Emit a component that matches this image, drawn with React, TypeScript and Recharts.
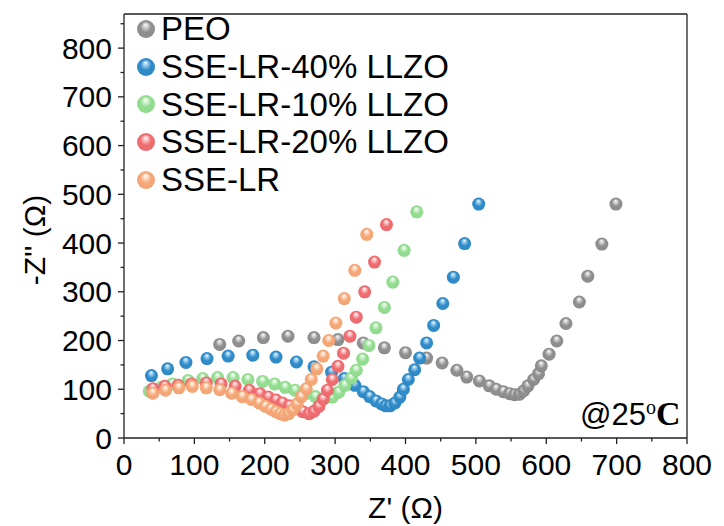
import React from "react";
import { ScatterChart, Scatter, XAxis, YAxis, ReferenceLine } from "recharts";

// Nyquist data, Z' / -Z'' in ohm
const peoRe = [136, 163, 198, 233, 270, 304, 340, 370, 400, 430, 452, 473, 487, 505, 519, 529, 539, 548, 555, 562, 568, 574, 582, 589, 593, 604, 615, 628, 647, 659, 679, 699];
const peoIm = [192, 199, 206, 209, 206, 202, 195, 185, 175, 164, 154, 139, 125, 117, 107, 100, 95, 91, 89, 90, 97, 107, 120, 132, 148, 172, 199, 235, 279, 332, 398, 480];

const llzo40Re = [39, 62, 88, 118, 148, 183, 216, 245, 270, 295, 313, 328, 340, 349, 358, 366, 372, 378, 385, 392, 397, 404, 413, 420, 430, 440, 453, 468, 484, 504];
const llzo40Im = [128, 142, 155, 163, 168, 170, 166, 156, 146, 135, 122, 108, 95, 85, 76, 70, 66, 66, 72, 84, 100, 120, 140, 164, 195, 231, 276, 330, 399, 480];

const llzo10Re = [36, 53, 69, 91, 112, 133, 155, 176, 197, 214, 229, 243, 258, 272, 285, 296, 305, 314, 323, 330, 339, 348, 358, 370, 382, 398, 416];
const llzo10Im = [96, 104, 111, 118, 122, 124, 124, 120, 116, 111, 104, 98, 91, 85, 81, 84, 94, 108, 123, 139, 162, 190, 226, 268, 320, 385, 464];

const llzo20Re = [41, 58, 77, 96, 117, 138, 158, 178, 193, 205, 216, 225, 235, 245, 254, 263, 270, 277, 283, 289, 296, 304, 312, 321, 330, 342, 356, 373];
const llzo20Im = [101, 106, 108, 111, 113, 111, 106, 98, 91, 84, 78, 72, 66, 60, 54, 50, 55, 65, 80, 98, 120, 147, 174, 209, 248, 300, 361, 438];

const sseRe = [41, 59, 78, 97, 117, 136, 153, 168, 181, 192, 201, 209, 216, 222, 228, 234, 240, 246, 252, 259, 266, 274, 283, 291, 301, 313, 328, 345];
const sseIm = [92, 98, 103, 106, 103, 99, 92, 85, 79, 72, 65, 59, 54, 50, 47, 50, 58, 70, 85, 101, 120, 142, 168, 200, 236, 286, 344, 418];

const X_TICKS = [0, 50, 100, 150, 200, 250, 300, 350, 400, 450, 500, 550, 600, 650, 700, 750, 800];
const Y_TICKS = [0, 50, 100, 150, 200, 250, 300, 350, 400, 450, 500, 550, 600, 650, 700, 750, 800, 850];

const toPoints = (re: number[], im: number[]) => re.map((x, i) => ({ x, y: im[i] }));

const SERIES = [
  { key: "peo", name: "PEO", data: toPoints(peoRe, peoIm), light: "#d6d6d6", base: "#8e8e8e", dark: "#6a6a6a" },
  { key: "l40", name: "SSE-LR-40% LLZO", data: toPoints(llzo40Re, llzo40Im), light: "#9fd0f0", base: "#2f8bc8", dark: "#1f6aa0" },
  { key: "l10", name: "SSE-LR-10% LLZO", data: toPoints(llzo10Re, llzo10Im), light: "#d8f5d6", base: "#92dc8f", dark: "#6cc269" },
  { key: "l20", name: "SSE-LR-20% LLZO", data: toPoints(llzo20Re, llzo20Im), light: "#fbc9ca", base: "#ee6c6f", dark: "#d34e52" },
  { key: "sse", name: "SSE-LR", data: toPoints(sseRe, sseIm), light: "#fde0cb", base: "#f4a676", dark: "#e08a55" },
];

const FONT = "'Liberation Sans', Arial, sans-serif";
const SERIF = "'Liberation Serif', 'Times New Roman', serif";
const AXIS = "#222";

const XTick = (props: any) => {
  const { x, y, payload } = props;
  const major = payload.value % 100 === 0;
  return (
    <g>
      <line x1={x} x2={x} y1={y} y2={y + (major ? 6 : 3.5)} stroke={AXIS} strokeWidth={1.3} />
      {major && (
        <text x={x} y={y + 37} textAnchor="middle" fontFamily={FONT} fontSize={30} fill="#000">
          {payload.value}
        </text>
      )}
    </g>
  );
};

const YTick = (props: any) => {
  const { x, y, payload } = props;
  const major = payload.value % 100 === 0;
  return (
    <g>
      <line x1={x} x2={x - (major ? 6 : 3.5)} y1={y} y2={y} stroke={AXIS} strokeWidth={1.3} />
      {major && (
        <text x={x - 12} y={y + 10.5} textAnchor="end" fontFamily={FONT} fontSize={30} fill="#000">
          {payload.value}
        </text>
      )}
    </g>
  );
};

const XTitle = (props: any) => {
  const vb = props.viewBox;
  return (
    <text x={vb.x + vb.width / 2} y={vb.y + 80} textAnchor="middle" fontFamily={FONT} fontSize={30} fill="#000">
      Z' (Ω)
    </text>
  );
};

const YTitle = (props: any) => {
  const vb = props.viewBox;
  const cy = vb.y + vb.height / 2 + 14;
  return (
    <text x={45} y={cy} transform={`rotate(-90 45 ${cy})`} textAnchor="middle" fontFamily={FONT} fontSize={30} fill="#000">
      -Z'' (Ω)
    </text>
  );
};

const Ball = (r: number, key: string) => (p: any) =>
  <circle cx={p.cx} cy={p.cy} r={r} fill={`url(#ball-${key})`} />;

// legend sits inside the plot frame, top-left
const LegendBox = () => (
  <div
    style={{
      position: "absolute",
      left: 136,
      top: 10,
      fontFamily: FONT,
      fontSize: 33,
      lineHeight: "37.8px",
      color: "#000",
      pointerEvents: "none",
    }}
  >
    {SERIES.map((s) => (
      <div key={s.key} style={{ display: "flex", alignItems: "center", whiteSpace: "nowrap" }}>
        <svg width={20} height={20} style={{ marginRight: 5 }}>
          <circle cx={10} cy={10} r={9} fill={`url(#ball-${s.key})`} />
        </svg>
        <span>{s.name}</span>
      </div>
    ))}
  </div>
);

export default function App() {
  return (
    <div style={{ position: "absolute", left: 0, top: 0, width: 724, height: 526, background: "#fff" }}>
      <svg width={0} height={0} style={{ position: "absolute" }}>
        <defs>
          {SERIES.map((s) => (
            <radialGradient key={s.key} id={`ball-${s.key}`} cx="50%" cy="50%" r="55%" fx="48%" fy="25%">
              <stop offset="0%" stopColor="#ffffff" />
              <stop offset="20%" stopColor={s.light} />
              <stop offset="55%" stopColor={s.base} />
              <stop offset="85%" stopColor={s.base} />
              <stop offset="100%" stopColor={s.dark} />
            </radialGradient>
          ))}
        </defs>
      </svg>
      <ScatterChart width={724} height={526} margin={{ top: 14, right: 37, bottom: 28, left: 24 }}>
        <XAxis
          type="number"
          dataKey="x"
          domain={[0, 800]}
          ticks={X_TICKS}
          interval={0}
          height={60}
          tickSize={0}
          tickMargin={0}
          tick={<XTick />}
          axisLine={{ stroke: AXIS, strokeWidth: 1.3 }}
          allowDataOverflow
          label={<XTitle />}
        />
        <YAxis
          type="number"
          dataKey="y"
          domain={[0, 870]}
          ticks={Y_TICKS}
          interval={0}
          width={100}
          tickSize={0}
          tickMargin={0}
          tick={<YTick />}
          axisLine={{ stroke: AXIS, strokeWidth: 1.3 }}
          allowDataOverflow
          label={<YTitle />}
        />
        <ReferenceLine y={870} stroke={AXIS} strokeWidth={1.3} />
        <ReferenceLine x={800} stroke={AXIS} strokeWidth={1.3} />
        {SERIES.map((s) => (
          <Scatter key={s.key} name={s.name} data={s.data} shape={Ball(6.5, s.key)} isAnimationActive={false} />
        ))}
      </ScatterChart>
      <LegendBox />
      <svg width={724} height={526} style={{ position: "absolute", left: 0, top: 0, pointerEvents: "none" }}>
        <text x={580} y={425} fontSize={31} fill="#000">
          <tspan fontFamily={FONT}>@25</tspan>
          <tspan fontFamily={SERIF} fontSize={20} dy={-11}>o</tspan>
          <tspan fontFamily={SERIF} fontWeight="bold" fontSize={34} dy={11}>C</tspan>
        </text>
      </svg>
    </div>
  );
}
